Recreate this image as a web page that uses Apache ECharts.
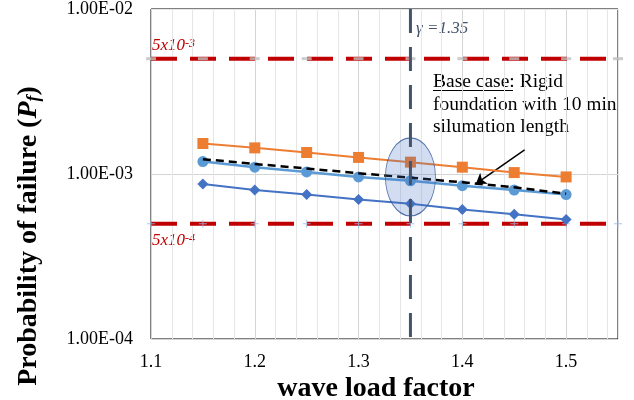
<!DOCTYPE html>
<html>
<head>
<meta charset="utf-8">
<script src="https://cdn.jsdelivr.net/npm/echarts@6/dist/echarts.min.js"></script>
<style>
  html, body { margin: 0; padding: 0; background: #fff; }
  #chart { width: 634px; height: 400px; }
</style>
</head>
<body>
<div id="chart"></div>
<script>
// 数据
const loadFactor = [1.15, 1.2, 1.25, 1.3, 1.35, 1.4, 1.45, 1.5]
const orangeSeries = [1.53e-3, 1.44e-3, 1.35e-3, 1.26e-3, 1.18e-3, 1.10e-3, 1.02e-3, 0.96e-3]
const lightBlueSeries = [1.19e-3, 1.10e-3, 1.03e-3, 0.96e-3, 0.91e-3, 0.85e-3, 0.80e-3, 0.75e-3]
const darkBlueSeries = [0.87e-3, 0.80e-3, 0.75e-3, 0.70e-3, 0.66e-3, 0.61e-3, 0.57e-3, 0.53e-3]
const baseCaseSeries = [1.23e-3, 1.15e-3, 1.08e-3, 1.01e-3, 0.95e-3, 0.89e-3, 0.83e-3, 0.76e-3]
const limitX = [1.1, 1.15, 1.2, 1.25, 1.3, 1.35, 1.4, 1.45, 1.5, 1.55]
const limitHigh = 5e-3
const limitLow = 5e-4
const gamma = 1.35
const ellipseCenter = [1.35, 0.96e-3]
const arrowFrom = [1.46, 1.40e-3]
const arrowTo = [1.413, 0.87e-3]
const yMinor = [2e-4, 3e-4, 4e-4, 5e-4, 6e-4, 7e-4, 8e-4, 9e-4, 2e-3, 3e-3, 4e-3, 5e-3, 6e-3, 7e-3, 8e-3, 9e-3]

const FONT = 'Liberation Serif'
const pair = (xs, ys) => xs.map((x, i) => [x, ys[i]])

const chart = echarts.init(document.getElementById('chart'))
const option = {
  animation: false,
  grid: {
    left: 151, right: 16, top: 9, bottom: 61,
    show: true, borderColor: '#000', borderWidth: 1, backgroundColor: 'transparent'
  },
  xAxis: {
    type: 'value',
    min: 1.1,
    max: 1.55,
    interval: 0.02,
    axisLine: { show: false },
    axisTick: { show: false },
    axisLabel: {
      margin: 14,
      color: '#000',
      fontFamily: FONT,
      fontSize: 18,
      formatter: (v) => {
        const t = v * 10
        return Math.abs(t - Math.round(t)) < 1e-6 && v < 1.545 ? v.toFixed(1) : ''
      }
    },
    splitLine: {
      show: true,
      lineStyle: { color: ['#d4d4d4', '#e6e6e6', '#e6e6e6', '#e6e6e6', '#e6e6e6'], width: 1 }
    }
  },
  yAxis: {
    type: 'log',
    logBase: 10,
    min: 1e-4,
    max: 1e-2,
    axisLine: { show: false },
    axisTick: { show: false },
    axisLabel: {
      margin: 18,
      color: '#000',
      fontFamily: FONT,
      fontSize: 18,
      formatter: (v) => {
        const e = Math.round(Math.log10(v))
        return '1.00E-' + String(-e).padStart(2, '0')
      }
    },
    splitLine: { show: true, lineStyle: { color: '#d4d4d4', width: 1 } }
  },
  series: [
    {
      // 次网格线
      type: 'line',
      data: [],
      silent: true,
      markLine: {
        silent: true,
        symbol: 'none',
        label: { show: false },
        lineStyle: { color: '#e6e6e6', width: 1, type: 'solid' },
        data: yMinor.map(v => ({ yAxis: v }))
      }
    },
    {
      type: 'line',
      data: [[limitX[0], limitHigh], [limitX[limitX.length - 1], limitHigh]],
      symbol: 'none',
      lineStyle: { color: '#C00000', width: 4, type: [26, 13] },
      z: 3
    },
    {
      type: 'line',
      data: [[limitX[0], limitLow], [limitX[limitX.length - 1], limitLow]],
      symbol: 'none',
      lineStyle: { color: '#C00000', width: 4, type: [26, 13] },
      z: 3
    },
    {
      type: 'scatter',
      data: limitX.map(x => [x, limitHigh]),
      symbol: 'rect',
      symbolSize: [10, 3],
      itemStyle: { color: '#bfbfbf' },
      z: 4
    },
    {
      type: 'scatter',
      data: limitX.map(x => [x, limitLow]),
      symbol: 'path://M0,3.5h8v1h-8zM3.5,0h1v8h-1z',
      symbolSize: 8,
      itemStyle: { color: '#9fb6e0' },
      z: 4
    },
    {
      type: 'line',
      data: pair(loadFactor, orangeSeries),
      symbol: 'rect',
      symbolSize: 11,
      lineStyle: { color: '#ED7D31', width: 2 },
      itemStyle: { color: '#ED7D31' },
      z: 5
    },
    {
      type: 'line',
      data: pair(loadFactor, lightBlueSeries),
      symbol: 'circle',
      symbolSize: 11,
      lineStyle: { color: '#5B9BD5', width: 2.5 },
      itemStyle: { color: '#5B9BD5' },
      z: 5
    },
    {
      type: 'line',
      data: pair(loadFactor, darkBlueSeries),
      symbol: 'diamond',
      symbolSize: 11,
      lineStyle: { color: '#4472C4', width: 2 },
      itemStyle: { color: '#4472C4' },
      z: 5
    },
    {
      type: 'line',
      data: pair(loadFactor, baseCaseSeries),
      symbol: 'none',
      lineStyle: { color: '#000', width: 2.5, type: [8, 5] },
      z: 6
    },
    {
      // 椭圆 + 箭头
      type: 'scatter',
      data: [ellipseCenter],
      symbol: 'circle',
      symbolSize: [50, 78],
      itemStyle: { color: 'rgba(68,114,196,0.3)', borderColor: '#2F5597', borderWidth: 1 },
      z: 7,
      markLine: {
        silent: true,
        symbol: ['none', 'arrow'],
        symbolSize: 10,
        label: { show: false },
        lineStyle: { color: '#000', width: 1.5, type: 'solid' },
        data: [[{ coord: arrowFrom }, { coord: arrowTo }]]
      }
    },
    {
      type: 'line',
      data: [[gamma, 1e-2], [gamma, 1e-4]],
      symbol: 'none',
      lineStyle: { color: '#44546A', width: 3, type: [24, 14] },
      z: 8
    }
  ],
  graphic: [
    {
      type: 'text', x: 416, y: 29,
      style: { text: 'γ =1.35', fill: '#44546A', font: 'italic 17px ' + FONT, textVerticalAlign: 'middle' }
    },
    {
      type: 'text', x: 152, y: 46,
      style: {
        text: '{a|5x10}{s|-3}',
        textVerticalAlign: 'middle',
        rich: {
          a: { fill: '#C00000', fontFamily: FONT, fontStyle: 'italic', fontSize: 17 },
          s: { fill: '#C00000', fontFamily: FONT, fontStyle: 'italic', fontSize: 12, verticalAlign: 'top' }
        }
      }
    },
    {
      type: 'text', x: 152, y: 241,
      style: {
        text: '{a|5x10}{s|-4}',
        textVerticalAlign: 'middle',
        rich: {
          a: { fill: '#C00000', fontFamily: FONT, fontStyle: 'italic', fontSize: 17 },
          s: { fill: '#C00000', fontFamily: FONT, fontStyle: 'italic', fontSize: 12, verticalAlign: 'top' }
        }
      }
    },
    {
      type: 'text', x: 433, y: 82,
      style: { text: 'Base case: Rigid', fill: '#000', font: '19.5px ' + FONT, textVerticalAlign: 'middle' }
    },
    {
      type: 'line', shape: { x1: 433, y1: 90.5, x2: 513, y2: 90.5 },
      style: { stroke: '#000', lineWidth: 1 }
    },
    {
      type: 'text', x: 433, y: 105,
      style: { text: 'foundation with 10 min', fill: '#000', font: '19.5px ' + FONT, textVerticalAlign: 'middle' }
    },
    {
      type: 'text', x: 433, y: 127,
      style: { text: 'silumation length', fill: '#000', font: '19.5px ' + FONT, textVerticalAlign: 'middle' }
    },
    {
      type: 'text', x: 376, y: 389,
      style: {
        text: 'wave load factor', fill: '#000', font: 'bold 28px ' + FONT,
        textAlign: 'center', textVerticalAlign: 'middle'
      }
    },
    {
      type: 'text', x: 29, y: 236, rotation: Math.PI / 2,
      style: {
        text: '{a|Probability of failure (}{p|P}{f|f}{a|)}',
        textAlign: 'center',
        textVerticalAlign: 'middle',
        rich: {
          a: { fill: '#000', fontFamily: FONT, fontWeight: 'bold', fontSize: 28 },
          p: { fill: '#000', fontFamily: FONT, fontWeight: 'bold', fontStyle: 'italic', fontSize: 28 },
          f: { fill: '#000', fontFamily: FONT, fontWeight: 'bold', fontStyle: 'italic', fontSize: 18, verticalAlign: 'bottom' }
        }
      }
    }
  ]
}
chart.setOption(option)
</script>
</body>
</html>
